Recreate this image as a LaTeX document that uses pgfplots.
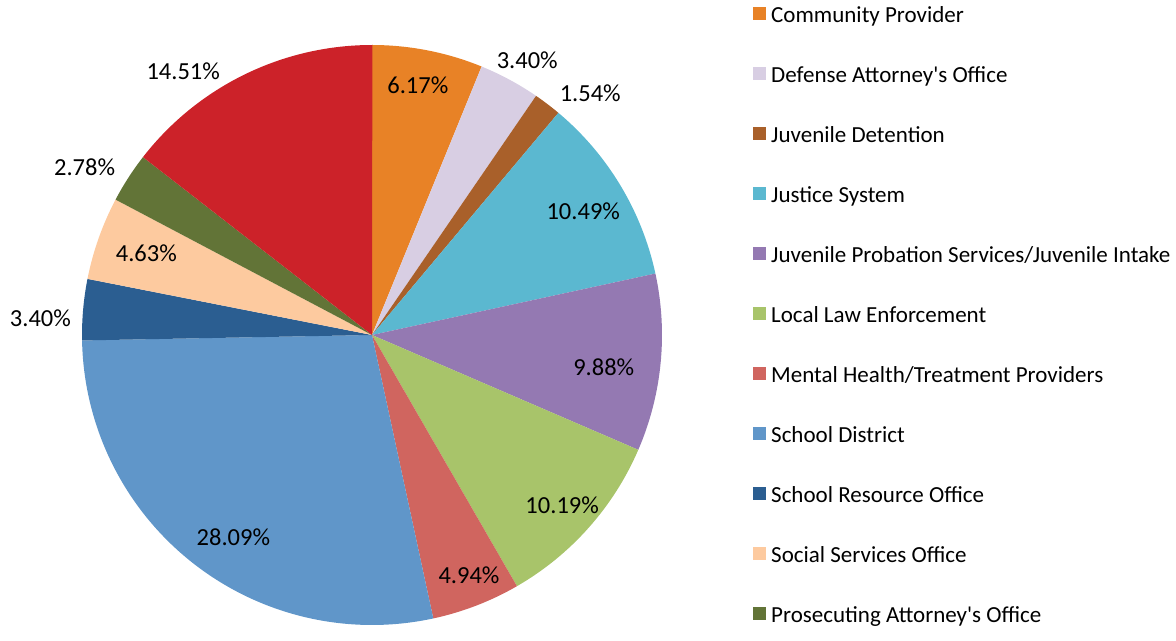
\documentclass[border=0pt]{standalone}
\usepackage{pgfplots}
\pgfplotsset{compat=1.18}
\usepackage{pgfplotstable}
\usepackage{fontspec}
\setmainfont{Carlito}
\newfontfamily\legf{Carlito}
\definecolor{c1}{RGB}{232,130,38}
\definecolor{c2}{RGB}{216,206,227}
\definecolor{c3}{RGB}{169,96,42}
\definecolor{c4}{RGB}{91,184,208}
\definecolor{c5}{RGB}{148,121,178}
\definecolor{c6}{RGB}{168,196,106}
\definecolor{c7}{RGB}{208,101,95}
\definecolor{c8}{RGB}{96,150,201}
\definecolor{c9}{RGB}{43,94,145}
\definecolor{c10}{RGB}{253,202,159}
\definecolor{c11}{RGB}{98,116,55}
\definecolor{c12}{RGB}{204,34,41}
% value, colour, label radius (px), label angle offset (deg)
\pgfplotstableread{
value color lr da
6.17  c1  254  0.7
3.40  c2  316 -1.1
1.54  c3  326 -4.8
10.49 c4  245 -0.7
9.88  c5  234 -2.4
10.19 c6  255 -0.1
4.94  c7  259  0.9
28.09 c8  245  3.9
3.40  c9  332  2.2
4.63  c10 240 -0.4
2.78  c11 333  2.5
14.51 c12 324  9.6
}\piedata
\newcommand\lblfont{\fontsize{24.5}{29}\selectfont}
\newcommand\legfont{\legf\fontsize{23}{27}\selectfont}
\begin{document}
\begin{tikzpicture}
\begin{axis}[
  scale only axis, width=1176pt, height=630pt,
  xmin=0, xmax=1176, ymin=0, ymax=630,
  hide axis, clip=false,
]
\path (axis cs:0,0) rectangle (axis cs:1176,630);
\def\cum{0}
\pgfplotsforeachungrouped \i in {0,...,11}{
  \pgfplotstablegetelem{\i}{value}\of\piedata \let\pv\pgfplotsretval
  \pgfplotstablegetelem{\i}{color}\of\piedata \let\pc\pgfplotsretval
  \pgfplotstablegetelem{\i}{lr}\of\piedata \let\plr\pgfplotsretval
  \pgfplotstablegetelem{\i}{da}\of\piedata \let\pda\pgfplotsretval
  \pgfmathsetmacro\sa{90-3.6*\cum}
  \pgfmathsetmacro\ea{90-3.6*(\cum+\pv)}
  \pgfmathsetmacro\ma{(\sa+\ea)/2+\pda}
  \edef\temp{%
    \noexpand\fill[\pc] (axis cs:372,295) -- ++(\sa:290pt) arc[start angle=\sa, end angle=\ea, radius=290pt] -- cycle;
    \noexpand\path (axis cs:372,295) ++(\ma:\plr pt) node[font=\noexpand\lblfont, inner sep=0pt] {\pv\noexpand\%};
  }
  \temp
  \pgfmathsetmacro\cum{\cum+\pv}
}
% legend
\pgfplotsforeachungrouped \k/\name in {
  0/Community Provider,
  1/Defense Attorney's Office,
  2/Juvenile Detention,
  3/Justice System,
  4/{Juvenile Probation Services/Juvenile Intake},
  5/Local Law Enforcement,
  6/{Mental Health/Treatment Providers},
  7/School District,
  8/School Resource Office,
  9/Social Services Office,
  10/Prosecuting Attorney's Office}{
  \pgfmathtruncatemacro\cc{\k+1}
  \pgfmathsetmacro\yy{616-60*\k}
  \pgfmathsetmacro\yb{607-60*\k}
  \edef\temp{%
    \noexpand\fill[c\cc] (axis cs:753,\yy-6.5) rectangle (axis cs:766,\yy+6.5);
    \noexpand\node[anchor=base west, inner sep=0pt, font=\noexpand\legfont] at (axis cs:771,\yb) {\unexpanded\expandafter{\name}};
  }
  \temp
}
\end{axis}
\end{tikzpicture}
\end{document}
